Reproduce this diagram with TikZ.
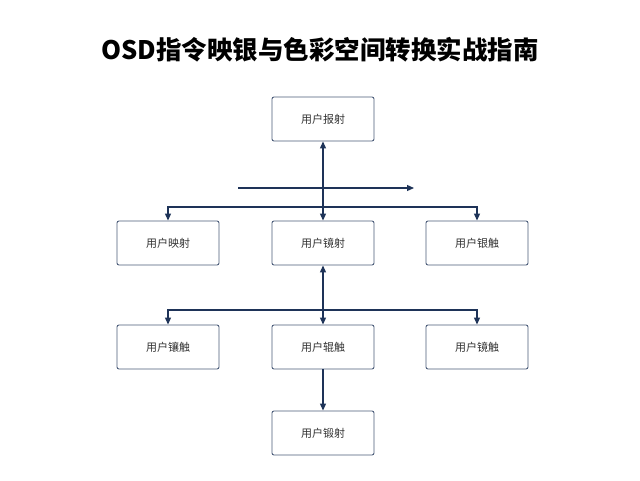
\documentclass[tikz,border=0pt]{standalone}
\usepackage{fontspec}
\newfontfamily\cjk{Noto Sans CJK SC}
\usetikzlibrary{arrows.meta}
\definecolor{navy}{HTML}{1E3358}
\begin{document}
\begin{tikzpicture}[x=1pt,y=-1pt,
 box/.style={draw=navy!80,line width=0.9pt,rounded corners=2pt,minimum width=102pt,minimum height=44pt,font=\cjk\fontsize{11}{13}\selectfont,text=black!80},
 ln/.style={draw=navy,line width=1.2pt},
 tip/.style={-{Triangle[length=7pt,width=6pt]}}]
\useasboundingbox[fill=white] (0,0) rectangle (640,480);
\node[font=\cjk\bfseries\fontsize{25.5}{28}\selectfont] (title) at (320,50) {OSD指令映银与色彩空间转换实战指南};
\node[box] (top) at (323,119) {用户报射};
\node[box] (l2) at (168,243) {用户映射};
\node[box] (c2) at (323,243) {用户镜射};
\node[box] (r2) at (477,243) {用户银触};
\node[box] (l3) at (168,347) {用户镶触};
\node[box] (c3) at (323,347) {用户辊触};
\node[box] (r3) at (477,347) {用户镜触};
\node[box] (b4) at (323,433) {用户锻射};
\coordinate (hs) at (238,188); \coordinate (he) at (414,188);
\draw[ln,tip] (hs) -- (he);
\draw[ln,{Triangle[length=7pt,width=6pt]}-{Triangle[length=7pt,width=6pt]}] (top) -- (c2);
\coordinate (a1) at (168,207); \coordinate (a2) at (477,207);
\draw[ln,tip] (a1 -| c2) -- (a1) -- (l2);
\draw[ln,tip] (a1 -| c2) -- (a2) -- (r2);
\draw[ln,{Triangle[length=7pt,width=6pt]}-{Triangle[length=7pt,width=6pt]}] (c2) -- (c3);
\coordinate (b1) at (168,310); \coordinate (b2) at (477,310);
\draw[ln,tip] (b1 -| c3) -- (b1) -- (l3);
\draw[ln,tip] (b1 -| c3) -- (b2) -- (r3);
\draw[ln,tip] (c3) -- (b4);
\end{tikzpicture}
\end{document}
